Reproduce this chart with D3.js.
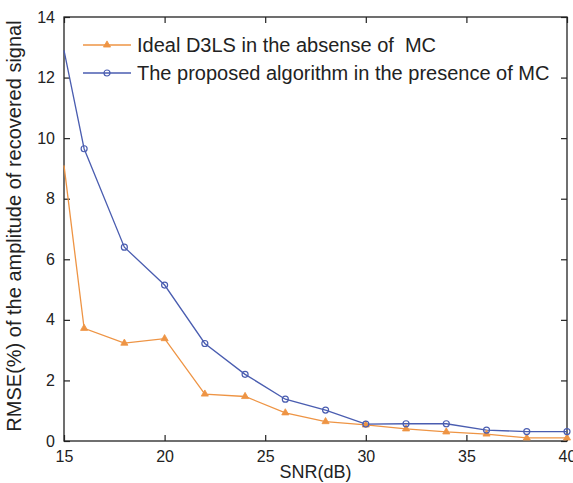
<!DOCTYPE html>
<html>
<head>
<meta charset="utf-8">
<script src="https://cdn.jsdelivr.net/npm/d3@7"></script>
<style>
  body { margin: 0; background: #fff; }
  text { font-family: "Liberation Sans", Arial, sans-serif; fill: #222; }
</style>
</head>
<body>
<div id="chart"></div>
<script>
// data
var snr = [15, 16, 18, 20, 22, 24, 26, 28, 30, 32, 34, 36, 38, 40];
var idealD3LS = [9.1, 3.72, 3.23, 3.38, 1.55, 1.47, 0.93, 0.64, 0.53, 0.4, 0.3, 0.23, 0.1, 0.1];
var proposed = [12.9, 9.65, 6.4, 5.15, 3.22, 2.2, 1.38, 1.02, 0.56, 0.57, 0.57, 0.36, 0.31, 0.31];
var xTicks = [15, 20, 25, 30, 35, 40];
var yTicks = [0, 2, 4, 6, 8, 10, 12, 14];
var seriesNames = ["Ideal D3LS in the absense of  MC", "The proposed algorithm in the presence of MC"];

var margin = {top: 17, right: 6, bottom: 42, left: 64};
var width = 573 - margin.left - margin.right;
var height = 483 - margin.top - margin.bottom;

var orange = "#ee9444";
var blue = "#4a5db0";

var svg = d3.select("#chart").append("svg")
  .attr("width", 573)
  .attr("height", 483)
  .append("g")
  .attr("transform", "translate(" + margin.left + "," + margin.top + ")");

var x = d3.scaleLinear().domain([15, 40]).range([0, width]);
var y = d3.scaleLinear().domain([0, 14]).range([height, 0]);

// axes, ticks pointing inward
var xAxis = d3.axisBottom(x).tickValues(xTicks).tickSize(-6).tickPadding(10);
var yAxis = d3.axisLeft(y).tickValues(yTicks).tickSize(-6).tickPadding(9);

svg.append("g")
  .attr("transform", "translate(0," + height + ")")
  .call(xAxis)
  .call(function (g) { g.select(".domain").remove(); })
  .selectAll("text").style("font-size", "16px");

svg.append("g")
  .call(yAxis)
  .call(function (g) { g.select(".domain").remove(); })
  .selectAll("text").style("font-size", "16px");

svg.append("g")
  .call(d3.axisTop(x).tickValues(xTicks).tickSize(-6).tickFormat(""))
  .call(function (g) { g.select(".domain").remove(); });

svg.append("g")
  .attr("transform", "translate(" + width + ",0)")
  .call(d3.axisRight(y).tickValues(yTicks).tickSize(-6).tickFormat(""))
  .call(function (g) { g.select(".domain").remove(); });

svg.selectAll(".tick line").attr("stroke", "#222").attr("stroke-width", 1.2);

svg.append("rect")
  .attr("width", width)
  .attr("height", height)
  .attr("fill", "none")
  .attr("stroke", "#222")
  .attr("stroke-width", 1.3);

var line = d3.line()
  .x(function (d) { return x(d[0]); })
  .y(function (d) { return y(d[1]); });

var orangeData = snr.map(function (s, i) { return [s, idealD3LS[i]]; });
var blueData = snr.map(function (s, i) { return [s, proposed[i]]; });

svg.append("path")
  .datum(orangeData)
  .attr("d", line)
  .attr("fill", "none")
  .attr("stroke", orange)
  .attr("stroke-width", 1.3);

svg.append("path")
  .datum(blueData)
  .attr("d", line)
  .attr("fill", "none")
  .attr("stroke", blue)
  .attr("stroke-width", 1.3);

var tri = d3.symbol().type(d3.symbolTriangle).size(22);

svg.selectAll(".tri")
  .data(orangeData.slice(1))
  .enter().append("path")
  .attr("class", "tri")
  .attr("d", tri)
  .attr("transform", function (d) { return "translate(" + x(d[0]) + "," + y(d[1]) + ")"; })
  .attr("fill", orange)
  .attr("stroke", orange)
  .attr("stroke-width", 0.8);

svg.selectAll(".circ")
  .data(blueData.slice(1))
  .enter().append("circle")
  .attr("class", "circ")
  .attr("cx", function (d) { return x(d[0]); })
  .attr("cy", function (d) { return y(d[1]); })
  .attr("r", 3)
  .attr("fill", "none")
  .attr("stroke", blue)
  .attr("stroke-width", 1.2);

// legend
var legend = svg.append("g").attr("transform", "translate(19,28)");
[orange, blue].forEach(function (c, i) {
  var row = legend.append("g").attr("transform", "translate(0," + (i * 28) + ")");
  row.append("line").attr("x1", 0).attr("x2", 48).attr("y1", 0).attr("y2", 0)
    .attr("stroke", c).attr("stroke-width", 1.3);
  if (i === 0) {
    row.append("path").attr("d", tri).attr("transform", "translate(24,0)")
      .attr("fill", c).attr("stroke", c).attr("stroke-width", 0.8);
  } else {
    row.append("circle").attr("cx", 24).attr("cy", 0).attr("r", 3)
      .attr("fill", "none").attr("stroke", c).attr("stroke-width", 1.2);
  }
  row.append("text").attr("x", 54).attr("y", 7)
    .style("font-size", "20px")
    .style("white-space", "pre")
    .text(seriesNames[i]);
});

// axis titles
svg.append("text")
  .attr("x", x(27.5))
  .attr("y", height + 37)
  .attr("text-anchor", "middle")
  .style("font-size", "18px")
  .text("SNR(dB)");

svg.append("text")
  .attr("transform", "translate(-43,209) rotate(-90)")
  .attr("text-anchor", "middle")
  .style("font-size", "20px")
  .text("RMSE(%) of the amplitude of recovered signal");
</script>
</body>
</html>
